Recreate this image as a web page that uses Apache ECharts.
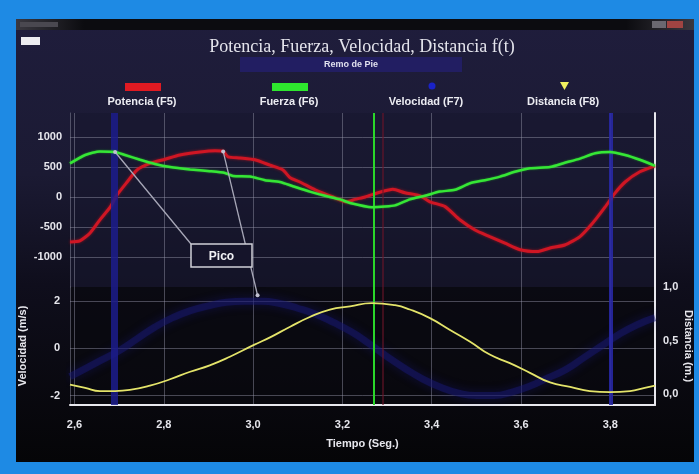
<!DOCTYPE html>
<html><head><meta charset="utf-8">
<script src="https://cdn.jsdelivr.net/npm/echarts@6/dist/echarts.min.js"></script>
<style>html,body{margin:0;padding:0;background:#1e8ae4;}#c{width:699px;height:474px;}</style>
</head><body><div id="c"></div>
<script>
// ---- data ----
const potenciaT = [2.590,2.612,2.635,2.657,2.680,2.695,2.718,2.740,2.769,2.803,2.836,2.881,2.915,2.933,2.944,2.971,3.004,3.038,3.067,3.083,3.105,3.139,3.179,3.210,3.228,3.251,3.284,3.313,3.340,3.374,3.396,3.430,3.463,3.497,3.530,3.564,3.598,3.636,3.665,3.698,3.732,3.761,3.788,3.810,3.833,3.866,3.900];
const potencia = [-750,-730,-600,-380,-170,30,250,450,560,630,700,750,770,760,670,650,620,530,450,320,250,120,0,-80,-40,0,80,130,70,20,-80,-160,-380,-550,-660,-770,-880,-910,-850,-800,-660,-430,-170,60,250,420,520];
const fuerzaT = [2.590,2.624,2.657,2.691,2.713,2.747,2.780,2.814,2.859,2.903,2.937,2.955,2.993,3.027,3.060,3.089,3.127,3.161,3.195,3.217,3.266,3.295,3.318,3.351,3.385,3.418,3.452,3.486,3.519,3.553,3.586,3.620,3.665,3.698,3.732,3.766,3.799,3.833,3.866,3.900];
const fuerza = [560,700,760,750,700,620,550,500,460,430,400,350,340,280,250,180,90,20,-40,-100,-170,-160,-140,-40,20,90,120,230,280,340,420,480,500,570,640,730,750,700,620,520];
const velocidadT = [2.59,2.62,2.66,2.70,2.74,2.78,2.82,2.86,2.90,2.94,2.98,3.02,3.06,3.10,3.14,3.18,3.22,3.26,3.30,3.34,3.38,3.42,3.46,3.50,3.54,3.58,3.62,3.66,3.70,3.74,3.78,3.82,3.86,3.90];
const velocidad = [-1.2,-0.9,-0.5,-0.1,0.4,0.9,1.3,1.6,1.8,1.95,2.0,2.0,1.9,1.7,1.45,1.1,0.7,0.2,-0.35,-0.85,-1.3,-1.65,-1.9,-2.0,-2.0,-1.85,-1.6,-1.25,-0.9,-0.4,0.1,0.6,1.0,1.3];
const distanciaT = [2.590,2.624,2.657,2.691,2.724,2.769,2.814,2.859,2.903,2.948,3.002,3.038,3.083,3.127,3.172,3.217,3.266,3.318,3.351,3.396,3.441,3.486,3.530,3.575,3.620,3.665,3.710,3.754,3.799,3.844,3.877,3.900];
const distancia = [0.09,0.06,0.03,0.03,0.04,0.08,0.14,0.21,0.27,0.35,0.46,0.53,0.63,0.72,0.79,0.82,0.85,0.83,0.79,0.71,0.60,0.49,0.37,0.29,0.20,0.11,0.07,0.03,0.02,0.03,0.06,0.08];
const timeTicks = [2.6,2.8,3.0,3.2,3.4,3.6,3.8];
const potTicks = [-1000,-500,0,500,1000];
const velTicks = [-2,0,2];
const distTicks = [0,0.5,1.0];
const cursorBlue = [2.695, 3.80];
const cursorGreen = 3.266;
const cursorRed = 3.29;
const seriesNames = ['Potencia (F5)','Fuerza (F6)','Velocidad (F7)','Distancia (F8)'];
const titleText = 'Potencia, Fuerza, Velocidad, Distancia f(t)';
const subText = 'Remo de Pie';
const picoText = 'Pico';
const velPeakMark = [3.01, 2.25];

const zip = (a,b)=>a.map((t,i)=>[t,b[i]]);
const FONT = '"Liberation Sans", Arial, sans-serif';
const lbl = {color:'#e6e6ec', fontWeight:'bold', fontSize:11, fontFamily:FONT};
const grid = 'rgba(150,150,170,0.45)';

const chart = echarts.init(document.getElementById('c'), null, {renderer:'canvas'});

const legendX = [142, 289, 426, 563];
const legendGraphics = [];
legendGraphics.push({type:'rect', shape:{x:125,y:83,width:36,height:8}, style:{fill:'#e01a22'}});
legendGraphics.push({type:'rect', shape:{x:272,y:83,width:36,height:8}, style:{fill:'#2ee62e'}});
legendGraphics.push({type:'circle', shape:{cx:432,cy:86,r:3.5}, style:{fill:'#1a22c8'}});
legendGraphics.push({type:'polygon', shape:{points:[[560,82],[569,82],[564.5,90]]}, style:{fill:'#f0f060'}});
seriesNames.forEach((n,i)=>legendGraphics.push({type:'text', x:legendX[i], y:102, style:{text:n, fill:'#ececf2', font:'bold 11px '+FONT, textAlign:'center', textVerticalAlign:'middle'}}));

const cursorLines = [
  {xAxis:cursorBlue[0], lineStyle:{color:'rgba(28,28,140,0.85)', width:7, type:'solid'}},
  {xAxis:cursorBlue[1], lineStyle:{color:'rgba(40,40,165,0.9)', width:4, type:'solid'}},
  {xAxis:cursorRed, lineStyle:{color:'rgba(110,20,40,0.55)', width:2, type:'solid'}},
  {xAxis:cursorGreen, lineStyle:{color:'#2ad62a', width:2, type:'solid'}}
];

const option = {
  backgroundColor:'#1e8ae4',
  animation:false,
  title:[
    {text:titleText, left:357, top:33, textAlign:'center', textStyle:{fontFamily:'"Liberation Serif", "DejaVu Serif", serif', fontSize:18, fontWeight:'normal', color:'#e4e4ec'}},
    {text:subText, left:240, top:57, padding:[3,84,3,84], backgroundColor:'#221e62', textStyle:{fontFamily:FONT, fontSize:9, fontWeight:'bold', color:'#e0e0ee'}}
  ],
  graphic:[
    {type:'rect', z:-10, shape:{x:16,y:19,width:678,height:443}, style:{fill:new echarts.graphic.LinearGradient(0,0,0,1,[{offset:0,color:'#1f1d3c'},{offset:0.35,color:'#1b1a33'},{offset:0.6,color:'#0f0e1c'},{offset:1,color:'#050507'}])}},
    {type:'rect', z:-9, shape:{x:16,y:19,width:678,height:11}, style:{fill:new echarts.graphic.LinearGradient(0,0,1,0,[{offset:0,color:'#3a3840'},{offset:0.1,color:'#0c0c10'},{offset:0.9,color:'#0c0c10'},{offset:1,color:'#3a3840'}])}},
    {type:'rect', z:-8, shape:{x:20,y:22,width:38,height:5}, style:{fill:'#4a4850'}},
    {type:'rect', z:-8, shape:{x:652,y:21,width:14,height:7}, style:{fill:'#6a6870'}},
    {type:'rect', z:-8, shape:{x:667,y:21,width:16,height:7}, style:{fill:'#a04442'}},
    {type:'rect', z:-8, shape:{x:21,y:37,width:19,height:8}, style:{fill:'#ececf0'}},
    ...legendGraphics
  ],
  grid:[
    {left:70, right:44, top:113, height:174, show:true, backgroundColor:'rgba(24,23,46,0.6)', borderWidth:0, outerBoundsMode:'none', containLabel:false},
    {left:70, right:44, top:287, height:118, show:true, backgroundColor:'rgba(8,8,14,0.7)', borderWidth:0, outerBoundsMode:'none', containLabel:false}
  ],
  xAxis:[
    {gridIndex:0, type:'value', min:2.59, max:3.9, axisLine:{show:false, onZero:false}, axisTick:{show:false, customValues:timeTicks}, axisLabel:{show:false, customValues:timeTicks}, splitLine:{show:true, lineStyle:{color:grid, width:1}}},
    {gridIndex:1, type:'value', min:2.59, max:3.9, axisLine:{show:true, onZero:false, lineStyle:{color:'#e8e8ee', width:2}}, axisTick:{show:false, customValues:timeTicks}, axisLabel:Object.assign({customValues:timeTicks, margin:14, formatter:v=>v.toFixed(1).replace('.',',')}, lbl), splitLine:{show:true, lineStyle:{color:grid, width:1}},
     name:'Tiempo (Seg.)', nameLocation:'middle', nameGap:33, nameTextStyle:lbl}
  ],
  yAxis:[
    {gridIndex:0, type:'value', min:-1500, max:1400, position:'left', axisLine:{show:true, onZero:false, lineStyle:{color:grid}}, axisTick:{show:false, customValues:potTicks}, axisLabel:Object.assign({customValues:potTicks, margin:8, formatter:v=>String(v)}, lbl), splitLine:{show:true, lineStyle:{color:grid}}},
    {gridIndex:0, type:'value', min:-1500, max:1400, position:'right', axisLine:{show:true, onZero:false, lineStyle:{color:'#e8e8ee', width:2}}, axisTick:{show:false}, axisLabel:{show:false}, splitLine:{show:false}},
    {gridIndex:1, type:'value', min:-2.4, max:2.6, position:'left', axisLine:{show:true, onZero:false, lineStyle:{color:grid}}, axisTick:{show:false, customValues:velTicks}, axisLabel:Object.assign({customValues:velTicks, margin:10, formatter:v=>String(v)}, lbl), splitLine:{show:true, lineStyle:{color:grid}},
     name:'Velocidad (m/s)', nameLocation:'middle', nameGap:42, nameTextStyle:lbl},
    {gridIndex:1, type:'value', min:-0.1, max:1.0, position:'right', axisLine:{show:true, onZero:false, lineStyle:{color:'#e8e8ee', width:2}}, axisTick:{show:false, customValues:distTicks}, axisLabel:Object.assign({customValues:distTicks, margin:8, formatter:v=>v.toFixed(1).replace('.',',')}, lbl), splitLine:{show:false},
     name:'Distancia (m.)', nameLocation:'middle', nameGap:28, nameRotate:-90, nameMoveOverlap:false, nameTextStyle:lbl}
  ],
  series:[
    {name:seriesNames[0], type:'line', xAxisIndex:0, yAxisIndex:0, data:zip(potenciaT,potencia), showSymbol:false, smooth:0.2, z:4,
     lineStyle:{color:'#cf1624', width:3, shadowColor:'rgba(190,20,30,0.7)', shadowBlur:3},
     markLine:{silent:true, symbol:'none', label:{show:false}, data:cursorLines}},
    {name:seriesNames[1], type:'line', xAxisIndex:0, yAxisIndex:0, data:zip(fuerzaT,fuerza), showSymbol:false, smooth:0.2, z:5,
     lineStyle:{color:'#36e636', width:2.5, shadowColor:'rgba(40,220,40,0.6)', shadowBlur:2}},
    {name:seriesNames[2], type:'line', xAxisIndex:1, yAxisIndex:2, data:zip(velocidadT,velocidad), showSymbol:false, smooth:true, z:3,
     lineStyle:{color:'rgba(24,24,115,0.5)', width:7, shadowColor:'rgba(25,25,130,0.8)', shadowBlur:10},
     markLine:{silent:true, symbol:'none', label:{show:false}, data:cursorLines}},
    {name:seriesNames[3], type:'line', xAxisIndex:1, yAxisIndex:3, data:zip(distanciaT,distancia), showSymbol:false, smooth:true, z:5,
     lineStyle:{color:'#e4e46a', width:1.8}}
  ]
};
chart.setOption(option);

// Pico annotation anchored to data through the axes
const pF = chart.convertToPixel({xAxisIndex:0, yAxisIndex:0}, [fuerzaT[3], fuerza[3]]);
const pP = chart.convertToPixel({xAxisIndex:0, yAxisIndex:0}, [potenciaT[13], potencia[13]]);
const pV = chart.convertToPixel({xAxisIndex:1, yAxisIndex:2}, velPeakMark);
const box = {x:191, y:244, w:61, h:23};
const ann = [
  {type:'line', z:100, shape:{x1:box.x, y1:box.y, x2:pF[0], y2:pF[1]}, style:{stroke:'#a8a8b8', lineWidth:1.3}},
  {type:'line', z:100, shape:{x1:pP[0], y1:pP[1], x2:pV[0], y2:pV[1]}, style:{stroke:'#a8a8b8', lineWidth:1.3}},
  {type:'circle', z:101, shape:{cx:pF[0], cy:pF[1], r:2}, style:{fill:'#c0c0d0'}},
  {type:'circle', z:101, shape:{cx:pP[0], cy:pP[1], r:2}, style:{fill:'#c0c0d0'}},
  {type:'circle', z:101, shape:{cx:pV[0], cy:pV[1], r:2}, style:{fill:'#c0c0d0'}},
  {type:'rect', z:100, shape:{x:box.x, y:box.y, width:box.w, height:box.h}, style:{fill:'#15142a', stroke:'#d0d0d8', lineWidth:1.5}},
  {type:'text', z:102, x:box.x+box.w/2, y:box.y+box.h/2+1, style:{text:picoText, fill:'#f0f0f4', font:'bold 12px '+FONT, textAlign:'center', textVerticalAlign:'middle'}}
];
chart.setOption({graphic: option.graphic.concat(ann)}, {replaceMerge:['graphic']});
</script></body></html>
